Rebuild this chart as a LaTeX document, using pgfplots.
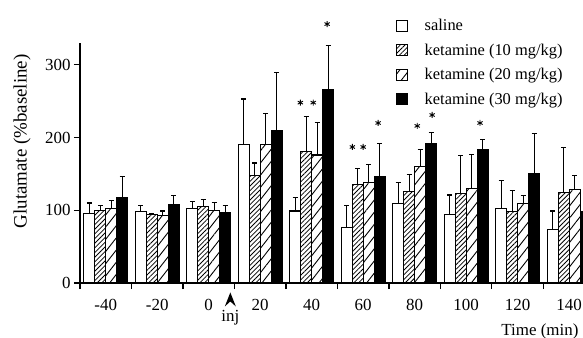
\documentclass[border=0pt]{standalone}
\usepackage{pgfplots}
\pgfplotsset{compat=1.18}
\usepackage{pgfplotstable}
\usepackage{fontspec}
\setmainfont{Liberation Serif}
\usetikzlibrary{patterns.meta}

\pgfplotstableread{
x y e
0 96 14
1 98 9
2 103 9
3 191 62
4 99 19
5 76 31
6 109 29
7 94 27
8 102 39
9 74 25
}\saline
\pgfplotstableread{
x y e
0 100 7
1 94 2
2 105 10
3 148 17
4 181 48
5 135 22
6 126 23
7 123 52
8 98 29
9 124 62
}\ketA
\pgfplotstableread{
x y e
0 102 11
1 93 6
2 100 11
3 191 42
4 176 45
5 138 25
6 160 23
7 130 47
8 109 11
9 129 19
}\ketB
\pgfplotstableread{
x y e
0 117 29
1 108 12
2 97 9
3 210 79
4 266 60
5 147 45
6 192 15
7 184 13
8 151 55
9 98 20
}\ketC

\begin{document}
\begin{tikzpicture}
\useasboundingbox (0,0) rectangle (583bp,338bp);
\begin{axis}[
  at={(80bp,55bp)}, anchor=south west,
  width=503bp, height=240bp, scale only axis,
  xmin=-0.5, xmax=9.27, ymin=0, ymax=330,
  axis lines=left, axis line style={-, line width=1.3bp},
  ybar=0pt, bar width=0.213,
  clip=true,
  font=\fontsize{17}{20}\selectfont,
  tick align=outside, major tick length=6bp,
  tick style={line width=1.2bp, black},
  ytick={0,100,200,300},
  yticklabel style={/pgf/number format/assume math mode=true},
  xtick={-0.5,0.5,...,8.5}, xticklabels={},
  extra x ticks={0,1,...,9},
  extra x tick labels={-40,-20,0,20,40,60,80,100,120,140},
  extra x tick style={major tick length=0pt, xticklabel style={anchor=center, yshift=-22bp}},
  ylabel={Glutamate (\%baseline)},
  every axis y label/.style={at={(axis description cs:-0.115,0.59)}, rotate=90, anchor=center, font=\fontsize{19}{22}\selectfont},
  legend image code/.code={\draw[#1, line width=1.1bp] (0bp,-5.5bp) rectangle (11bp,5.5bp);},
  legend style={draw=none, fill=none, inner sep=0pt, at={(axis description cs:0.628,1.105)}, anchor=north west,
    font=\fontsize{16.5}{19.5}\selectfont, row sep=8.5bp, nodes={inner sep=1.5bp},
    /tikz/every odd column/.append style={column sep=15bp}},
  legend cell align=left,
  error bars/y dir=plus, error bars/y explicit,
  error bars/error bar style={line width=1.1bp, black},
  error bars/error mark options={rotate=90, mark size=2.5bp, line width=1.1bp, black},
]
\addplot[draw=black, fill=white, line width=1.1bp] table[x=x, y=y, y error=e] {\saline};
\addlegendentry{saline}
\addplot[draw=black, line width=1.1bp, pattern={Lines[angle=45, distance=3.3bp, line width=0.8bp]}] table[x=x, y=y, y error=e] {\ketA};
\addlegendentry{ketamine (10 mg/kg)}
\addplot[draw=black, line width=1.1bp, pattern={Lines[angle=52, distance=7.5bp, line width=0.9bp]}] table[x=x, y=y, y error=e] {\ketB};
\addlegendentry{ketamine (20 mg/kg)}
\addplot[draw=black, fill=black, line width=1.1bp] table[x=x, y=y, y error=e] {\ketC};
\addlegendentry{ketamine (30 mg/kg)}
\end{axis}
\begin{axis}[
  at={(80bp,55bp)}, anchor=south west,
  width=503bp, height=240bp, scale only axis,
  xmin=-0.5, xmax=9.27, ymin=0, ymax=330,
  hide axis, clip=false,
  font=\fontsize{17}{20}\selectfont,
]
\addplot[only marks, mark=asterisk, mark size=3bp, mark options={line width=0.9bp, black}] coordinates {
(3.78,248) (4.03,248) (4.30,356)
(4.79,187) (5.00,187) (5.29,220)
(6.05,216) (6.34,231)
(7.27,220)
};
\fill[black] (axis cs:2.42,-13) -- ++(-5.5bp,-14bp) -- ++(5.5bp,5bp) -- ++(5.5bp,-5bp) -- cycle;
\node[anchor=center] at (axis cs:2.42,0) [yshift=-35bp] {inj};
\node[anchor=east] at (rel axis cs:1,0) [yshift=-48bp, xshift=-1bp] {Time (min)};
\end{axis}
\end{tikzpicture}
\end{document}
